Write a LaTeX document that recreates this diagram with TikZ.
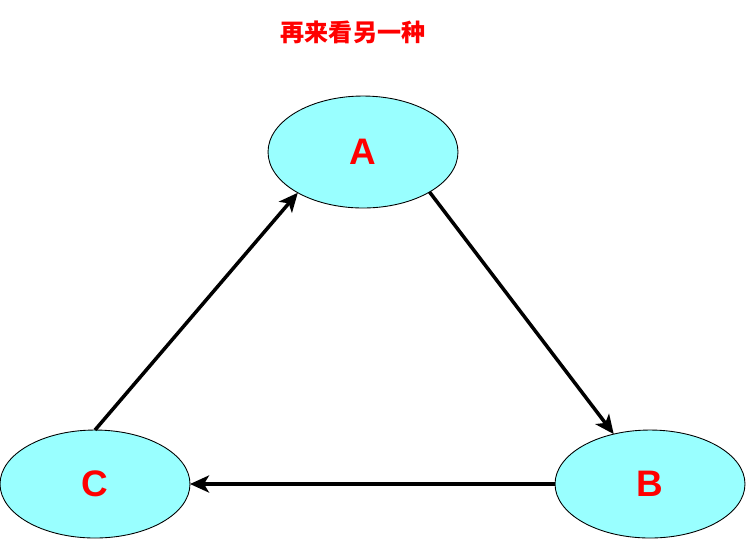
\documentclass[tikz,border=0pt]{standalone}
\usepackage{fontspec}
\setmainfont{Liberation Sans}
\newfontfamily\cjk{Noto Sans CJK SC}
\usetikzlibrary{shapes.geometric,arrows.meta}
\definecolor{nodecyan}{HTML}{99FFFF}
\definecolor{labelred}{HTML}{FF0000}

\begin{document}
\begin{tikzpicture}[x=0.02cm,y=-0.02cm,-{Stealth[length=0.38cm,width=0.34cm,inset=0.1cm]},line width=2pt]
    \tikzstyle{state}=[ellipse,draw=black,line width=0.5pt,fill=nodecyan,minimum width=3.8cm,minimum height=2.16cm,inner sep=0pt,outer sep=0pt,font=\fontsize{21}{24}\bfseries\selectfont,text=labelred]
    \tikzstyle{title}=[font=\cjk\fontsize{13.7}{16}\bfseries\selectfont,text=labelred]

    \useasboundingbox (0,0) rectangle (746,539);

    % Draw the title
    \node[title] (T) at (353,32) {再来看另一种};

    % Draw the three states
    \node[state, minimum height=2.24cm] (A) at (363,152) {A};
    \node[state] (B) at (650,484) {B};
    \node[state] (C) at (95,484) {C};

    % Connect the states round the cycle
    \draw (A.-31.5) -- (B.126.7);
    \draw (B.west) -- (C.east);
    \draw (C.north) -- (A.212);

\end{tikzpicture}
\end{document}
